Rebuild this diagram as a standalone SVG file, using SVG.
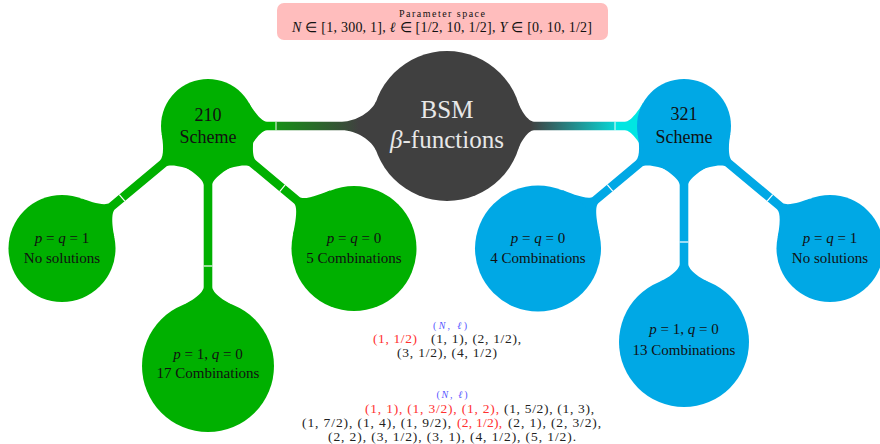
<svg xmlns="http://www.w3.org/2000/svg" width="880" height="444" viewBox="0 0 880 444">
<style>
.g{fill:#00b000}
.b{fill:#00a8e5}
.d{fill:#404040}
.tick{stroke:#ffffff;stroke-width:1.2}
.t{font-family:"Liberation Serif","Times New Roman",serif;fill:#111111;text-anchor:middle}
.i{font-style:italic}
.s{font-family:"Liberation Serif","Times New Roman",serif;fill:#222222;font-size:13.5px}
.red{fill:#ff3030}
.blue{fill:#5555ff}
</style>
<defs>
<linearGradient id="gl" gradientUnits="userSpaceOnUse" x1="248" y1="0" x2="377" y2="0">
<stop offset="0" stop-color="#00b000"/>
<stop offset="0.217" stop-color="#00b000"/>
<stop offset="0.217" stop-color="#169016"/>
<stop offset="0.86" stop-color="#404040"/>
<stop offset="1" stop-color="#404040"/>
</linearGradient>
<linearGradient id="gr" gradientUnits="userSpaceOnUse" x1="518" y1="0" x2="644" y2="0">
<stop offset="0" stop-color="#404040"/>
<stop offset="0.1" stop-color="#404040"/>
<stop offset="0.77" stop-color="#08d4d4"/>
<stop offset="0.77" stop-color="#00e6e2"/>
<stop offset="1" stop-color="#00e6e2"/>
</linearGradient>
</defs>
<g id="header">
<rect x="277" y="3" width="331" height="37" rx="7" fill="#ffbdbd"/>
<text class="t" x="442" y="17" font-size="10" textLength="86" lengthAdjust="spacing">Parameter space</text>
<text class="t" x="442" y="32" font-size="14" textLength="300" lengthAdjust="spacing"><tspan class="i">N</tspan> ∈ [1, 300, 1],  <tspan class="i">ℓ</tspan> ∈ [1/2, 10, 1/2],  <tspan class="i">Y</tspan> ∈ [0, 10, 1/2]</text>
</g>
<g id="connectors">
<path fill="url(#gl)" d="M248.7,102.5 C252.7,109.4 261,121.7 267,121.7 L342,121.7 C356,121.7 372.4,111.6 376.5,100.35 L376.5,151.65 C372.4,140.4 356,130.3 342,130.3 L267,130.3 C261,130.3 252.7,142.6 248.7,149.5 Z"/>
<line class="tick" x1="276" y1="121.7" x2="276" y2="130.3" opacity="0.8"/>
<path fill="url(#gr)" d="M518.3,102.8 C520.5,109.5 528,121.7 534,121.7 L625,121.7 C631,121.7 639.3,109.4 643.3,102.5 L643.3,149.5 C639.3,142.6 631,130.3 625,130.3 L534,130.3 C528,130.3 520.5,142.5 518.3,149.2 Z"/>
<line class="tick" x1="615" y1="121.7" x2="615" y2="130.3" opacity="0.8"/>
<g transform="translate(208,126) rotate(140.1)">
<path class="g" d="M40.7,-23.5 C44.7,-16.57 53,-4.3 59,-4.3 L124.8,-4.3 C130.8,-4.3 139.3,-18.06 143.06,-25.12 L143.06,25.12 C139.3,18.06 130.8,4.3 124.8,4.3 L59,4.3 C53,4.3 44.7,16.57 40.7,23.5 Z"/>
<line class="tick" x1="112" y1="-4.3" x2="112" y2="4.3"/>
</g>
<g transform="translate(208,126) rotate(90)">
<path class="g" d="M40.7,-23.5 C44.7,-16.57 53,-4.3 59,-4.3 L161,-4.3 C167,-4.3 175.81,-17.3 178.81,-24.72 L178.81,24.72 C175.81,17.3 167,4.3 161,4.3 L59,4.3 C53,4.3 44.7,16.57 40.7,23.5 Z"/>
<line class="tick" x1="140" y1="-4.3" x2="140" y2="4.3"/>
</g>
<g transform="translate(208,126) rotate(39.9)">
<path class="g" d="M40.7,-23.5 C44.7,-16.57 53,-4.3 59,-4.3 L115.8,-4.3 C121.8,-4.3 131.36,-22.28 135.12,-29.34 L135.12,29.34 C131.36,22.28 121.8,4.3 115.8,4.3 L59,4.3 C53,4.3 44.7,16.57 40.7,23.5 Z"/>
<line class="tick" x1="97" y1="-4.3" x2="97" y2="4.3"/>
</g>
<g transform="translate(684,126) rotate(140.1)">
<path class="b" d="M40.7,-23.5 C44.7,-16.57 53,-4.3 59,-4.3 L115.3,-4.3 C121.3,-4.3 130.92,-22.52 134.68,-29.58 L134.68,29.58 C130.92,22.52 121.3,4.3 115.3,4.3 L59,4.3 C53,4.3 44.7,16.57 40.7,23.5 Z"/>
<line class="tick" x1="96.5" y1="-4.3" x2="96.5" y2="4.3"/>
</g>
<g transform="translate(684,126) rotate(90)">
<path class="b" d="M40.7,-23.5 C44.7,-16.57 53,-4.3 59,-4.3 L138,-4.3 C144,-4.3 152.73,-16.93 155.73,-24.35 L155.73,24.35 C152.73,16.93 144,4.3 138,4.3 L59,4.3 C53,4.3 44.7,16.57 40.7,23.5 Z"/>
<line class="tick" x1="116" y1="-4.3" x2="116" y2="4.3"/>
</g>
<g transform="translate(684,126) rotate(39.9)">
<path class="b" d="M40.7,-23.5 C44.7,-16.57 53,-4.3 59,-4.3 L124.8,-4.3 C130.8,-4.3 139.3,-18.06 143.06,-25.12 L143.06,25.12 C139.3,18.06 130.8,4.3 124.8,4.3 L59,4.3 C53,4.3 44.7,16.57 40.7,23.5 Z"/>
<line class="tick" x1="112" y1="-4.3" x2="112" y2="4.3"/>
</g>
</g>
<g id="bsm">
<circle class="d" cx="447" cy="126" r="75"/>
<text class="t" x="447" y="118" font-size="25" style="fill:#e8e8e8">BSM</text>
<text class="t" x="447" y="148" font-size="25" style="fill:#e8e8e8"><tspan class="i">β</tspan>-functions</text>
</g>
<g id="scheme210">
<circle class="g" cx="208" cy="126" r="47"/>
<text class="t" x="208" y="120.5" font-size="18">210</text>
<text class="t" x="208" y="143" font-size="18">Scheme</text>
</g>
<g id="scheme321">
<circle class="b" cx="684" cy="126" r="47"/>
<text class="t" x="684" y="120" font-size="18">321</text>
<text class="t" x="684" y="143" font-size="18">Scheme</text>
</g>
<g id="g-pq1">
<circle class="g" cx="62" cy="248.5" r="53.5"/>
<text class="t" x="62" y="243" font-size="15"><tspan class="i">p</tspan> = <tspan class="i">q</tspan> = 1</text>
<text class="t" x="62" y="263" font-size="15">No solutions</text>
</g>
<g id="g-p1q0">
<circle class="g" cx="208" cy="366" r="66"/>
<text class="t" x="208" y="359" font-size="15"><tspan class="i">p</tspan> = 1,  <tspan class="i">q</tspan> = 0</text>
<text class="t" x="208" y="378" font-size="15">17 Combinations</text>
</g>
<g id="g-pq0">
<circle class="g" cx="354" cy="248.5" r="62.5"/>
<text class="t" x="354" y="243" font-size="15"><tspan class="i">p</tspan> = <tspan class="i">q</tspan> = 0</text>
<text class="t" x="354" y="263" font-size="15">5 Combinations</text>
</g>
<g id="b-pq0">
<circle class="b" cx="538" cy="248.5" r="63"/>
<text class="t" x="538" y="243" font-size="15"><tspan class="i">p</tspan> = <tspan class="i">q</tspan> = 0</text>
<text class="t" x="538" y="263" font-size="15">4 Combinations</text>
</g>
<g id="b-p1q0">
<circle class="b" cx="684" cy="342" r="65"/>
<text class="t" x="684" y="334" font-size="15"><tspan class="i">p</tspan> = 1,  <tspan class="i">q</tspan> = 0</text>
<text class="t" x="684" y="355" font-size="15">13 Combinations</text>
</g>
<g id="b-pq1">
<circle class="b" cx="830" cy="248.5" r="53.5"/>
<text class="t" x="830" y="243" font-size="15"><tspan class="i">p</tspan> = <tspan class="i">q</tspan> = 1</text>
<text class="t" x="830" y="263" font-size="15">No solutions</text>
</g>
<g id="list17">
<text class="t blue" x="450" y="328.5" font-size="10" textLength="34" lengthAdjust="spacing" style="fill:#5555ff">(<tspan class="i">N</tspan>, <tspan class="i">ℓ</tspan>)</text>
<text class="s red" x="373" y="342.5" textLength="44" lengthAdjust="spacing">(1, 1/2)</text>
<text class="s" x="431" y="342.5" textLength="90" lengthAdjust="spacing">(1, 1),  (2, 1/2),</text>
<text class="s" x="397" y="356.5" textLength="100" lengthAdjust="spacing">(3, 1/2),  (4, 1/2)</text>
</g>
<g id="list13">
<text class="t blue" x="452" y="398" font-size="10" textLength="31" lengthAdjust="spacing" style="fill:#5555ff">(<tspan class="i">N</tspan>, <tspan class="i">ℓ</tspan>)</text>
<text class="s red" x="365" y="412.5" textLength="134" lengthAdjust="spacing">(1, 1),  (1, 3/2),  (1, 2),</text>
<text class="s" x="504" y="412.5" textLength="90" lengthAdjust="spacing">(1, 5/2),  (1, 3),</text>
<text class="s" x="302" y="426.5" textLength="149" lengthAdjust="spacing">(1, 7/2),  (1, 4),  (1, 9/2),</text>
<text class="s red" x="457" y="426.5" textLength="45" lengthAdjust="spacing">(2, 1/2),</text>
<text class="s" x="508" y="426.5" textLength="93" lengthAdjust="spacing">(2, 1),  (2, 3/2),</text>
<text class="s" x="328" y="440.5" textLength="248" lengthAdjust="spacing">(2, 2),  (3, 1/2),  (3, 1),  (4, 1/2),  (5, 1/2).</text>
</g>
</svg>
